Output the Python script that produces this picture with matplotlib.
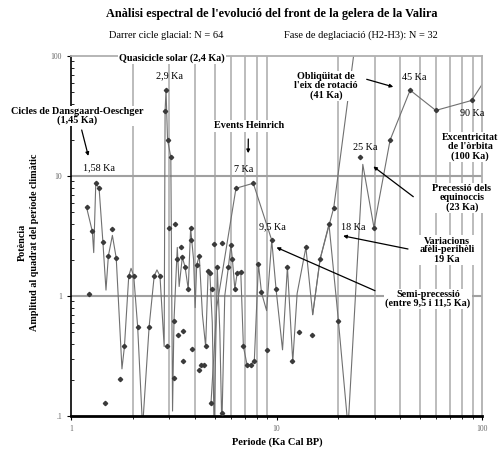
import numpy as np
import matplotlib
matplotlib.use("Agg")
import matplotlib.pyplot as plt
from matplotlib.ticker import FixedLocator, FixedFormatter, NullFormatter

plt.rcParams['font.family'] = ['Liberation Serif', 'DejaVu Serif']

# espectre: línia principal (període en Ka, potència)
line_period = [1.19, 1.27, 1.29, 1.32, 1.37, 1.43, 1.48, 1.52, 1.59, 1.66, 1.77, 1.82,
               1.91, 1.96, 2.02, 2.11, 2.23, 2.40, 2.54, 2.62, 2.71, 2.84, 2.87, 2.90,
               2.95, 3.06, 3.12, 3.17, 3.29, 3.36, 3.48, 3.59, 3.72, 3.82, 3.95, 4.02,
               4.09, 4.21, 4.36, 4.52, 4.65, 4.74, 4.87, 4.97, 5.15, 5.30, 5.42, 5.60,
               5.83, 6.00, 6.10, 6.27, 6.43, 6.70, 6.90, 7.20, 7.50, 7.80, 8.17, 8.45,
               8.95, 9.48, 9.95, 10.7, 11.3, 12.0, 12.6, 13.9, 15.0, 16.3, 18.0, 19.6,
               20.0, 22.3, 26.3, 29.8, 35.7, 44.7, 59.6, 89.0, 100.0]
line_power = [5.5, 3.45, 2.3, 8.7, 7.9, 2.8, 1.12, 2.16, 3.2, 2.07, 0.247, 0.38,
              1.47, 1.7, 1.47, 0.556, 0.08, 0.556, 1.47, 1.65, 1.47, 0.38, 35, 52,
              20, 14.4, 0.11, 0.62, 2.54, 1.2, 2.1, 1.75, 1.14, 3.67, 2.0, 0.8,
              1.82, 2.16, 0.7, 0.38, 1.62, 1.54, 0.6, 0.08, 1.73, 0.5, 0.08, 1.0,
              1.73, 2.67, 2.03, 1.14, 1.54, 1.6, 0.38, 0.264, 0.268, 0.29, 1.85, 1.07,
              0.755, 2.92, 1.14, 0.356, 1.75, 0.284, 1.05, 2.54, 0.7, 2.03, 3.97, 0.9,
              0.623, 0.08, 12.5, 3.72, 19.9, 51.9, 35.2, 42.6, 57.8]

# tram dels events Heinrich
heinrich_period = [4.80, 5.12, 6.35, 7.71, 9.48]
heinrich_power = [0.128, 0.81, 7.9, 8.7, 2.92]

# tram de l'obliqüitat
obliq_period = [15.0, 16.3, 19.0, 25.0]
obliq_power = [0.7, 2.03, 5.46, 200]

# punts calculats
pt_period = [1.19, 1.27, 1.32, 1.37, 1.43, 1.23, 1.52, 1.59, 1.66, 1.46, 1.82, 1.74,
             1.91, 2.02, 2.11, 2.40, 2.54, 2.71, 2.92, 2.90, 2.87, 2.95, 3.06, 3.01,
             3.21, 3.42, 3.29, 3.48, 3.59, 3.82, 3.82, 3.72, 4.09, 4.21, 4.65, 4.74,
             4.87, 4.96, 5.15, 5.45, 6.00, 5.83, 6.10, 6.27, 6.43, 6.70, 3.17, 3.33,
             3.49, 3.52, 3.17, 3.90, 4.20, 4.29, 4.42, 4.52, 4.80, 5.43, 6.90, 7.20,
             7.50, 7.80, 6.35, 7.71, 8.17, 8.45, 8.95, 9.48, 9.95, 11.3, 11.9, 12.9,
             13.9, 14.9, 16.3, 18.0, 19.0, 20.0, 25.5, 29.8, 35.7, 44.7, 59.6, 89.0]
pt_power = [5.5, 3.45, 8.7, 7.9, 2.8, 1.04, 2.16, 3.65, 2.07, 0.129, 0.38, 0.204,
            1.47, 1.47, 0.556, 0.556, 1.47, 1.47, 0.38, 52, 35, 20, 14.4, 3.67,
            3.97, 2.54, 2.03, 2.1, 1.75, 3.67, 2.92, 1.14, 1.82, 2.16, 1.62, 1.54,
            1.14, 2.7, 1.73, 2.79, 2.67, 1.73, 2.03, 1.14, 1.54, 1.6, 0.62, 0.47,
            0.51, 0.29, 0.208, 0.36, 0.243, 0.268, 0.264, 0.38, 0.128, 0.105, 0.38, 0.264,
            0.268, 0.29, 7.9, 8.7, 1.85, 1.07, 0.357, 2.92, 1.14, 1.75, 0.286, 0.505,
            2.54, 0.474, 2.03, 3.97, 5.46, 0.623, 14.5, 3.72, 19.9, 51.9, 35.2, 42.6]

x_ticks = [1, 10, 100]
x_tick_labels = ['1', '10', '100']
y_ticks = [0.1, 1, 10, 100]
y_tick_labels = ['.1', '1', '10', '100']

W, H = 501, 449
fig = plt.figure(figsize=(W / 100, H / 100), dpi=100)
ax = fig.add_axes([71 / W, 1 - 416 / H, (482 - 71) / W, (416 - 56) / H])
ax.set_xscale('log')
ax.set_yscale('log')
ax.set_xlim(1, 100)
ax.set_ylim(0.1, 100)

grid_c = '#b0b0b0'
minor_x = [m * 10 ** k for k in range(2) for m in range(2, 10)]
for xv in minor_x:
    ax.axvline(xv, color=grid_c, lw=1.2, zorder=0)
for yv in [1, 10]:
    ax.axhline(yv, color='#a0a0a0', lw=1.5, zorder=0)

ax.plot(line_period, line_power, color='#707070', lw=0.8, zorder=2)
ax.plot(heinrich_period, heinrich_power, color='#707070', lw=0.8, zorder=2)
ax.plot(obliq_period, obliq_power, color='#707070', lw=0.8, zorder=2)
ax.plot(pt_period, pt_power, ls='none', marker='D', ms=2.2, color='#3a3a3a', zorder=3)

for s in ['top', 'right']:
    ax.spines[s].set_color(grid_c)
    ax.spines[s].set_linewidth(1.3)
ax.spines['bottom'].set_linewidth(2)
ax.spines['left'].set_linewidth(1.2)

ax.xaxis.set_major_locator(FixedLocator(x_ticks))
ax.xaxis.set_major_formatter(FixedFormatter(x_tick_labels))
ax.xaxis.set_minor_locator(FixedLocator(minor_x))
ax.xaxis.set_minor_formatter(NullFormatter())
ax.yaxis.set_major_locator(FixedLocator(y_ticks))
ax.yaxis.set_major_formatter(FixedFormatter(y_tick_labels))
ax.yaxis.set_minor_locator(FixedLocator([m * 10.0 ** k for k in range(-1, 2) for m in range(2, 10)]))
ax.yaxis.set_minor_formatter(NullFormatter())
ax.tick_params(axis='both', which='major', labelsize=5.5, labelcolor='#666666', length=3, width=0.8)
ax.tick_params(axis='y', which='minor', direction='in', length=2, width=0.6)
ax.tick_params(axis='x', which='minor', length=2, width=0.6)


def px(X, Y):
    return (X / W, 1 - Y / H)


box = dict(facecolor='white', edgecolor='none', pad=0.8)
bold = dict(fontsize=7.3, fontweight='bold', ha='center', va='center', linespacing=1.0)
norm = dict(fontsize=7.3, ha='center', va='center')

fig.text(*px(272, 14), "Anàlisi espectral de l'evolució del front de la gelera de la Valira",
         fontsize=8.8, fontweight='bold', ha='center', va='center')
fig.text(*px(166, 35), 'Darrer cicle glacial: N = 64', fontsize=7.5, ha='center', va='center')
fig.text(*px(361, 35), 'Fase de deglaciació (H2-H3): N = 32', fontsize=7.5, ha='center', va='center')

fig.text(*px(22, 242), 'Potència', rotation=90, fontsize=7.3, fontweight='bold', ha='center', va='center')
fig.text(*px(35, 242), 'Amplitud al quadrat del període climàtic', rotation=90, fontsize=7.3,
         fontweight='bold', ha='center', va='center')
fig.text(*px(277, 442), 'Periode (Ka Cal BP)', fontsize=7.5, fontweight='bold', ha='center', va='center')

fig.text(*px(172, 58), 'Quasicicle solar (2,4 Ka)', bbox=box, **bold)
fig.text(*px(170, 76), '2,9 Ka', **norm)
fig.text(*px(77, 116), 'Cicles de Dansgaard-Oeschger\n(1,45 Ka)', bbox=box, **bold)
fig.text(*px(99, 168), '1,58 Ka', **norm)
fig.text(*px(249, 126), 'Events Heinrich', bbox=box, **bold)
fig.text(*px(244, 169), '7 Ka', **norm)
fig.text(*px(272, 227), '9,5 Ka', **norm)
fig.text(*px(353, 227), '18 Ka', **norm)
fig.text(*px(365, 147), '25 Ka', **norm)
fig.text(*px(414, 78), '45 Ka', **norm)
fig.text(*px(472, 113), '90 Ka', **norm)
fig.text(*px(326, 86), "Obliqüitat de\nl'eix de rotació\n(41 Ka)", bbox=box, **bold)
fig.text(*px(470, 147), "Excentricitat\nde l'òrbita\n(100 Ka)", bbox=box, **bold)
fig.text(*px(462, 198), 'Precessió dels\nequinoccis\n(23 Ka)', bbox=box, **bold)
fig.text(*px(447, 250), 'Variacions\nafèli-perihèli\n19 Ka', bbox=box, **bold)
fig.text(*px(428, 299), 'Semi-precessió\n(entre 9,5 i 11,5 Ka)', bbox=box, **bold)

arrows = [
    ((1.214, 14.7), (81.7, 130)),
    ((7.28, 15.5), (248.3, 139)),
    ((37.0, 55.3), (366.7, 79.3)),
    ((29.6, 12.0), (413.3, 196.7)),
    ((21.1, 3.17), (408, 249)),
    ((10.0, 2.54), (375, 290.7)),
]
for tip, start in arrows:
    ax.annotate('', xy=tip, xycoords='data', xytext=(start[0], H - start[1]),
                textcoords='figure pixels',
                arrowprops=dict(arrowstyle='-|>', color='black', lw=0.9,
                                shrinkA=0, shrinkB=0, mutation_scale=5))

fig.savefig('out.png', dpi=100)
